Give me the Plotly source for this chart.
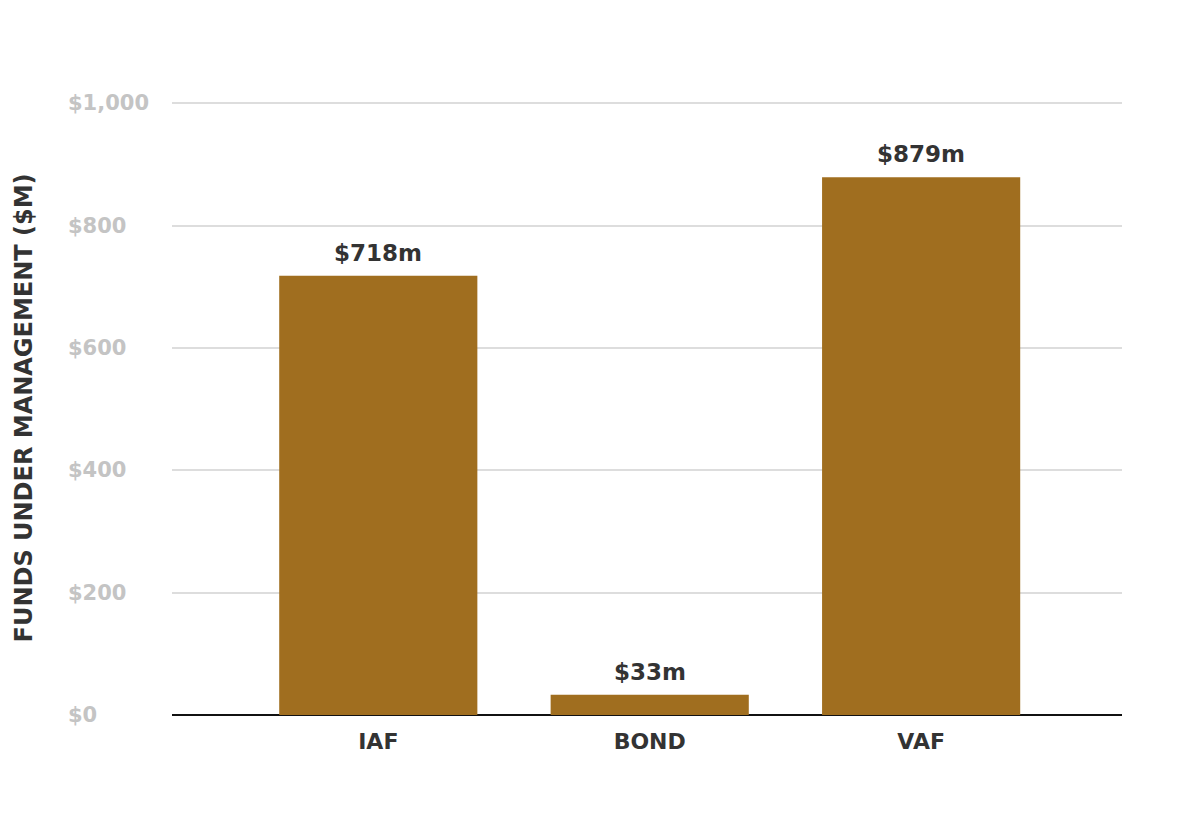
import plotly.graph_objects as go

categories = ["IAF", "BOND", "VAF"]
values = [718, 33, 879]
labels = ["$718m", "$33m", "$879m"]
tick_vals = [0, 200, 400, 600, 800, 1000]
tick_text = ["$0", "$200", "$400", "$600", "$800", "$1,000"]
y_title = "FUNDS UNDER MANAGEMENT ($M)"

FONT = "DejaVu Sans"
BAR = "#A06E1F"

fig = go.Figure()
fig.add_trace(go.Bar(
    x=categories, y=values, marker=dict(color=BAR, line=dict(width=0)),
    width=0.73, hoverinfo="skip",
))
# value labels
for c, v, t in zip(categories, values, labels):
    fig.add_annotation(x=c, y=v, text="<b>%s</b>" % t, showarrow=False,
                       yanchor="bottom", yshift=8,
                       font=dict(family=FONT, size=23, color="#333333"))
# left-aligned y tick labels
for tv, tt in zip(tick_vals, tick_text):
    fig.add_annotation(x=0, xref="paper", y=tv, yref="y", text="<b>%s</b>" % tt,
                       showarrow=False, xanchor="left", yanchor="middle",
                       xshift=-106,
                       font=dict(family=FONT, size=21, color="#c4c4c4"))
# y axis title
fig.add_annotation(x=0, xref="paper", y=0.5, yref="paper", text="<b>%s</b>" % y_title,
                   showarrow=False, textangle=-90, xanchor="center", yanchor="middle",
                   xshift=-149,
                   font=dict(family=FONT, size=24, color="#333333"))

fig.update_layout(
    width=1200, height=817,
    margin=dict(l=172, r=78, t=102, b=102),
    paper_bgcolor="white", plot_bgcolor="white",
    showlegend=False,
    font=dict(family=FONT),
    xaxis=dict(
        range=[-0.76, 2.74], showgrid=False, showline=False, zeroline=False,
        ticks="", tickfont=dict(family=FONT, size=22, color="#333333", weight="bold"),
        ticklabelstandoff=11,
    ),
    yaxis=dict(
        range=[0, 1002], tickvals=tick_vals, showticklabels=False,
        showgrid=True, gridcolor="#dddddd", gridwidth=1.5,
        zeroline=True, zerolinecolor="#111111", zerolinewidth=2,
        showline=False, ticks="",
    ),
)
fig.write_html("out.html")
